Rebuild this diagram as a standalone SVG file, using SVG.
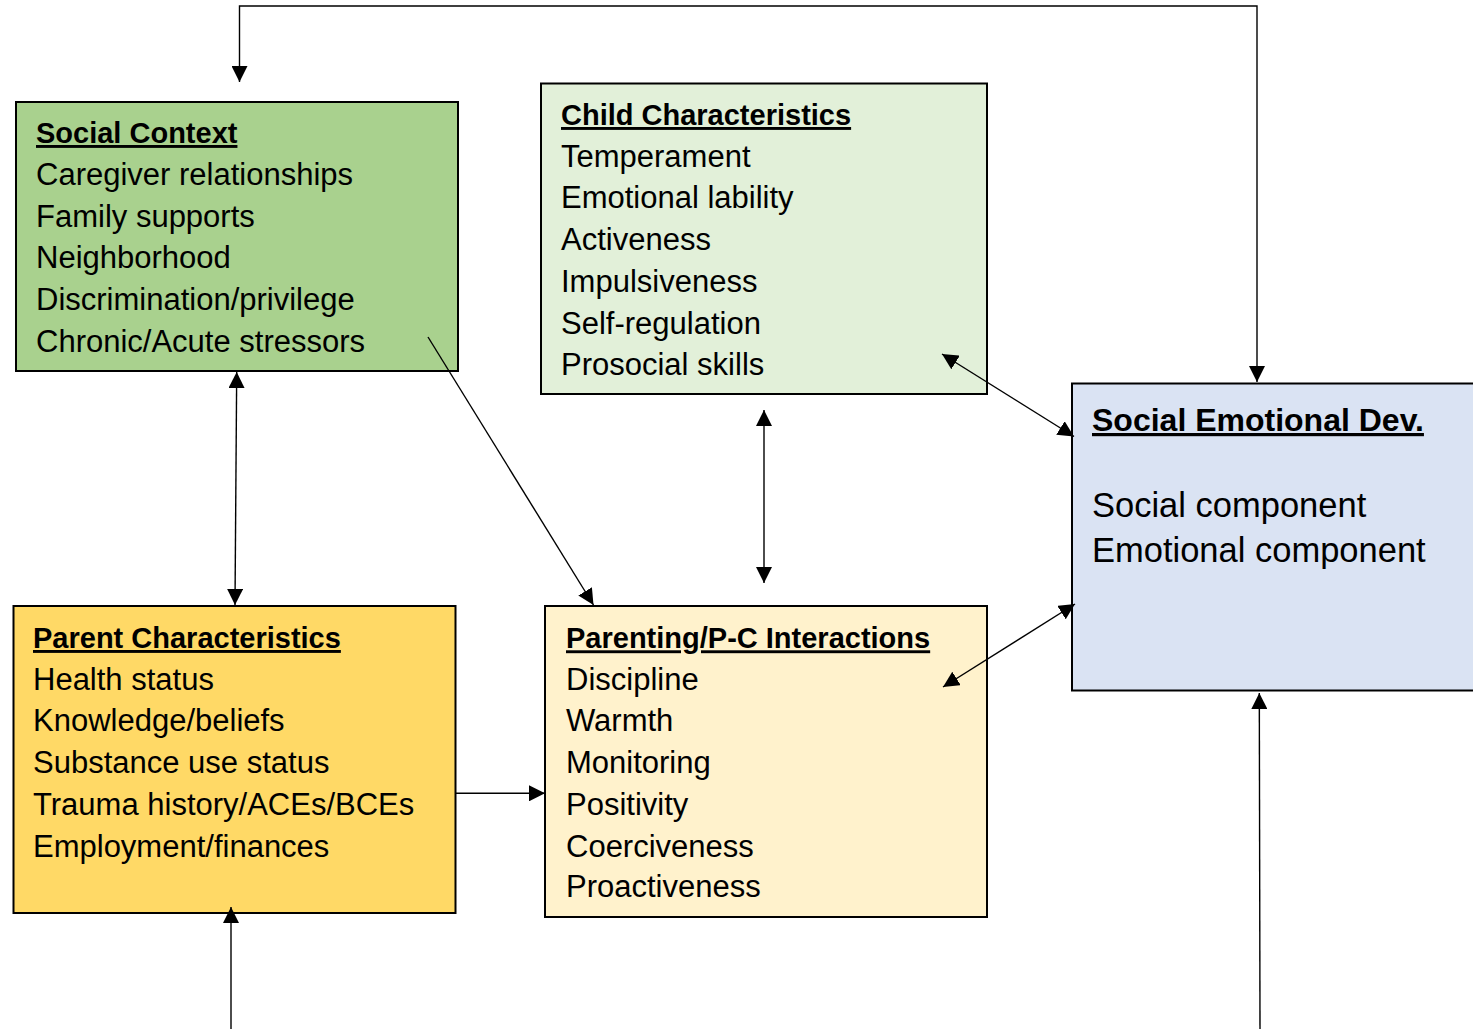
<svg xmlns="http://www.w3.org/2000/svg" width="1473" height="1029" viewBox="0 0 1473 1029">
  <style>
    .box { stroke: #000; stroke-width: 2; }
    .txt { font-family: "Liberation Sans", Arial, sans-serif; font-size: 31px; fill: #000; }
    .ttl { font-weight: bold; font-size: 29px; text-decoration: underline; }
    .big { font-size: 34.5px; }
    .big .ttl { font-size: 32px; }
    .link { fill: none; stroke: #000; stroke-width: 1.4; }
  </style>
  <defs>
    <marker id="head" markerUnits="userSpaceOnUse" markerWidth="16" markerHeight="16" refX="15" refY="7.5" orient="auto-start-reverse" viewBox="0 0 15 15">
      <path d="M0,0 L15,7.5 L0,15 z" fill="#000"/>
    </marker>
  </defs>
  <rect width="1473" height="1029" fill="#fff"/>

  <g id="social-context">
    <rect class="box" x="16" y="102" width="442" height="269" fill="#A9D18E"/>
    <text class="txt">
      <tspan class="ttl" x="36" y="143">Social Context</tspan>
      <tspan x="36" y="185">Caregiver relationships</tspan>
      <tspan x="36" y="226.7">Family supports</tspan>
      <tspan x="36" y="268.4">Neighborhood</tspan>
      <tspan x="36" y="310">Discrimination/privilege</tspan>
      <tspan x="36" y="352">Chronic/Acute stressors</tspan>
    </text>
  </g>

  <g id="child-characteristics">
    <rect class="box" x="541" y="83.5" width="446" height="310.5" fill="#E2F0D9"/>
    <text class="txt">
      <tspan class="ttl" x="561" y="125">Child Characteristics</tspan>
      <tspan x="561" y="166.7">Temperament</tspan>
      <tspan x="561" y="208.4">Emotional lability</tspan>
      <tspan x="561" y="250">Activeness</tspan>
      <tspan x="561" y="291.8">Impulsiveness</tspan>
      <tspan x="561" y="333.5">Self-regulation</tspan>
      <tspan x="561" y="375">Prosocial skills</tspan>
    </text>
  </g>

  <g id="social-emotional-dev">
    <rect class="box" x="1072" y="383.5" width="410" height="307" fill="#DAE3F3"/>
    <text class="txt big">
      <tspan class="ttl" x="1092" y="431">Social Emotional Dev.</tspan>
      <tspan x="1092" y="517">Social component</tspan>
      <tspan x="1092" y="562">Emotional component</tspan>
    </text>
  </g>

  <g id="parent-characteristics">
    <rect class="box" x="13.5" y="606" width="442" height="307" fill="#FFD966"/>
    <text class="txt">
      <tspan class="ttl" x="33" y="648">Parent Characteristics</tspan>
      <tspan x="33" y="689.5">Health status</tspan>
      <tspan x="33" y="731.3">Knowledge/beliefs</tspan>
      <tspan x="33" y="773">Substance use status</tspan>
      <tspan x="33" y="814.8">Trauma history/ACEs/BCEs</tspan>
      <tspan x="33" y="856.6">Employment/finances</tspan>
    </text>
  </g>

  <g id="parenting-interactions">
    <rect class="box" x="545" y="606" width="442" height="311" fill="#FFF2CC"/>
    <text class="txt">
      <tspan class="ttl" x="566" y="648.3">Parenting/P-C Interactions</tspan>
      <tspan x="566" y="689.5">Discipline</tspan>
      <tspan x="566" y="731.3">Warmth</tspan>
      <tspan x="566" y="773">Monitoring</tspan>
      <tspan x="566" y="814.8">Positivity</tspan>
      <tspan x="566" y="856.6">Coerciveness</tspan>
      <tspan x="566" y="897">Proactiveness</tspan>
    </text>
  </g>

  <g id="connectors">
    <!-- feedback loop across the top -->
    <path class="link" d="M239.5,82 V6 H1257 V382" marker-start="url(#head)" marker-end="url(#head)"/>
    <!-- social context <-> parent characteristics -->
    <path class="link" d="M236.7,372 L235,605" marker-start="url(#head)" marker-end="url(#head)"/>
    <!-- social context -> parenting -->
    <path class="link" d="M428,337 L593.5,605" marker-end="url(#head)"/>
    <!-- child characteristics <-> parenting -->
    <path class="link" d="M764,410 V583" marker-start="url(#head)" marker-end="url(#head)"/>
    <!-- child characteristics <-> social emotional dev -->
    <path class="link" d="M942,354 L1074,436.5" marker-start="url(#head)" marker-end="url(#head)"/>
    <!-- parenting <-> social emotional dev -->
    <path class="link" d="M943,687 L1075,604" marker-start="url(#head)" marker-end="url(#head)"/>
    <!-- parent characteristics -> parenting -->
    <path class="link" d="M456,793.3 H545" marker-end="url(#head)"/>
    <!-- incoming from below -->
    <path class="link" d="M231,1029 V907" marker-end="url(#head)"/>
    <path class="link" d="M1260,1029 L1259.3,693" marker-end="url(#head)"/>
  </g>
</svg>
